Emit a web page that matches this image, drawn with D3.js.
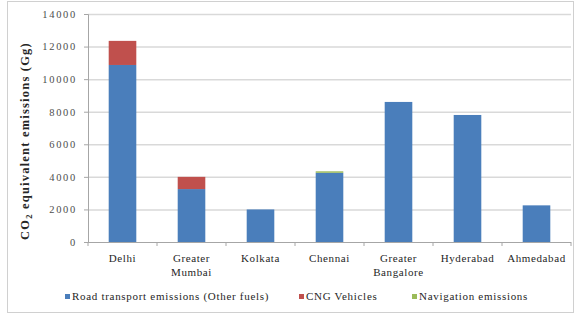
<!DOCTYPE html>
<html>
<head>
<meta charset="utf-8">
<script src="https://cdn.jsdelivr.net/npm/d3@7"></script>
<style>
body { margin: 0; background: #fff; }
</style>
</head>
<body>
<script>
// данные
var cities = ["Delhi", "Greater Mumbai", "Kolkata", "Chennai", "Greater Bangalore", "Hyderabad", "Ahmedabad"];
var cityLines = [["Delhi"], ["Greater", "Mumbai"], ["Kolkata"], ["Chennai"], ["Greater", "Bangalore"], ["Hyderabad"], ["Ahmedabad"]];
var roadOther = [10870, 3250, 2000, 4250, 8600, 7800, 2250];
var cngVehicles = [1480, 750, 0, 0, 0, 0, 0];
var navigation = [0, 0, 0, 90, 0, 0, 0];
var seriesNames = ["Road transport emissions (Other fuels)", "CNG Vehicles", "Navigation emissions"];
var seriesColors = ["#4a7ebb", "#c0504d", "#9bbb59"];
var yTicks = [0, 2000, 4000, 6000, 8000, 10000, 12000, 14000];

var serif = "Liberation Serif";
var width = 582, height = 320;
var plot = { left: 88, right: 571, top: 14, bottom: 242 };

var svg = d3.select("body").append("svg").attr("width", width).attr("height", height);

// рамка всей диаграммы
svg.append("rect").attr("x", 7.5).attr("y", 1.5).attr("width", 566).attr("height", 311)
	.attr("fill", "none").attr("stroke", "#d0d0d0");

var x = d3.scaleBand().domain(cities).range([plot.left, plot.right]).paddingInner(0.6).paddingOuter(0.3);
var y = d3.scaleLinear().domain([0, 14000]).range([plot.bottom, plot.top]);

// сетка
svg.append("g").selectAll("line").data(yTicks.slice(1)).enter().append("line")
	.attr("x1", plot.left).attr("x2", plot.right)
	.attr("y1", function(d) { return y(d) + 0.5; }).attr("y2", function(d) { return y(d) + 0.5; })
	.attr("stroke", "#d9d9d9").attr("stroke-width", 1.5);

// ось Y
var yAxis = svg.append("g").attr("transform", "translate(" + plot.left + ",0)")
	.call(d3.axisLeft(y).tickValues(yTicks).tickFormat(d3.format("d")).tickSize(4).tickPadding(7));
yAxis.select(".domain").attr("stroke", "#a6a6a6");
yAxis.selectAll(".tick line").attr("stroke", "#a6a6a6");
yAxis.selectAll("text").attr("fill", "#4d4d4d")
	.style("font-family", serif).style("font-size", "10.5px").style("letter-spacing", "1.7px");

// стопки
var table = cities.map(function(c, i) {
	return { city: c, road: roadOther[i], cng: cngVehicles[i], nav: navigation[i] };
});
var stack = d3.stack().keys(["road", "cng", "nav"])(table);
svg.append("g").selectAll("g").data(stack).enter().append("g")
	.attr("fill", function(d, i) { return seriesColors[i]; })
	.selectAll("rect").data(function(d) { return d; }).enter().append("rect")
	.attr("x", function(d) { return x(d.data.city); })
	.attr("width", x.bandwidth())
	.attr("y", function(d) { return y(d[1]); })
	.attr("height", function(d) { return y(d[0]) - y(d[1]); });

// ось X
var xAxis = svg.append("g").attr("transform", "translate(0," + plot.bottom + ")");
xAxis.append("line").attr("x1", plot.left).attr("x2", plot.right).attr("y1", 0.5).attr("y2", 0.5).attr("stroke", "#a6a6a6");
xAxis.selectAll(".tk").data(d3.range(cities.length + 1)).enter().append("line")
	.attr("x1", function(i) { return plot.left + i * (plot.right - plot.left) / cities.length; })
	.attr("x2", function(i) { return plot.left + i * (plot.right - plot.left) / cities.length; })
	.attr("y1", 0).attr("y2", 4).attr("stroke", "#a6a6a6");
xAxis.selectAll("text").data(cities).enter().append("text")
	.attr("x", function(d) { return x(d) + x.bandwidth() / 2; })
	.attr("y", 20)
	.attr("text-anchor", "middle").attr("fill", "#262626")
	.style("font-family", serif).style("font-size", "11px").style("letter-spacing", "0.6px")
	.each(function(d, i) {
		var t = d3.select(this);
		cityLines[i].forEach(function(s, k) {
			t.append("tspan").attr("x", x(d) + x.bandwidth() / 2).attr("dy", k ? 13.5 : 0).text(s);
		});
	});

// подпись оси Y
svg.append("text")
	.attr("transform", "translate(29,141) rotate(-90)")
	.attr("text-anchor", "middle").attr("fill", "#262626")
	.style("font-family", serif).style("font-size", "12.5px").style("font-weight", "bold").style("letter-spacing", "1.2px")
	.html('CO<tspan dy="3" style="font-size:8.5px">2</tspan><tspan dy="-3"> equivalent emissions (Gg)</tspan>');

// легенда
var legendX = [65, 299, 412];
var lg = svg.append("g").selectAll("g").data(seriesNames).enter().append("g")
	.attr("transform", function(d, i) { return "translate(" + legendX[i] + ",300)"; });
lg.append("rect").attr("x", 0).attr("y", -6).attr("width", 5).attr("height", 5)
	.attr("fill", function(d, i) { return seriesColors[i]; });
lg.append("text").attr("x", 7).attr("y", 0).attr("fill", "#262626")
	.style("font-family", serif).style("font-size", "11px").style("letter-spacing", "0.7px")
	.text(function(d) { return d; });
</script>
</body>
</html>
